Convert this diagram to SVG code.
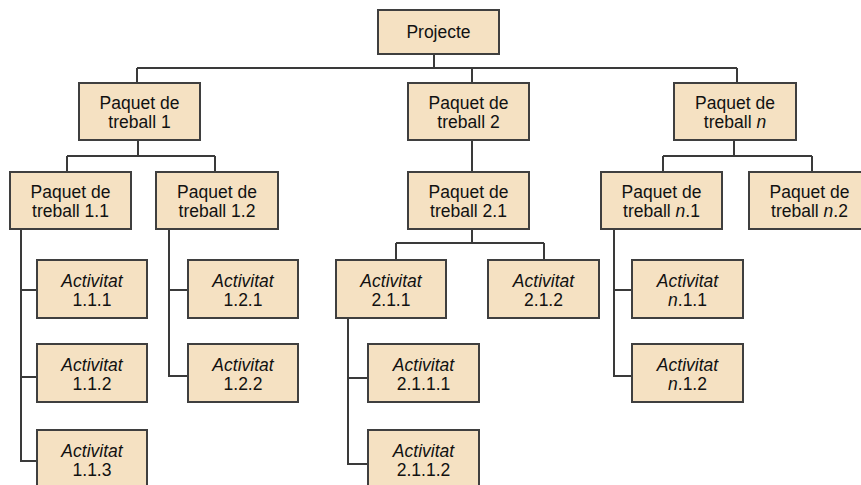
<svg xmlns="http://www.w3.org/2000/svg" width="861" height="485" viewBox="0 0 861 485">
  <style>
    .box { fill: #F5E1C2; stroke: #3f3f3f; stroke-width: 2; }
    .lbl { font-family: "Liberation Sans", Arial, sans-serif; font-size: 17.5px; fill: #111; text-anchor: middle; }
    .it { font-style: italic; }
    .wire { fill: none; stroke: #3a3a3a; stroke-width: 2; }
  </style>
  <rect width="861" height="485" fill="#ffffff"/>

  <!-- tree connectors -->
  <g id="connectors" class="wire">
    <path d="M434 54 V68 M137 68 H737 M137 68 V83 M472 68 V83 M737 68 V83"/>
    <path d="M138 140 V156 M67 156 H215 M67 156 V172 M215 156 V172"/>
    <path d="M472 140 V172"/>
    <path d="M734 140 V156 M663 156 H812 M663 156 V172 M812 156 V172"/>
    <path d="M21 229 V461 H37 M21 290 H37 M21 377 H37"/>
    <path d="M169 229 V376 H188 M169 290 H188"/>
    <path d="M472 229 V243 M396 243 H544 M396 243 V260 M544 243 V260"/>
    <path d="M348 318 V464 H368 M348 378 H368"/>
    <path d="M614 229 V376 H632 M614 290 H632"/>
  </g>

  <!-- root -->
  <g id="projecte">
    <rect class="box" x="378" y="10" width="121" height="44"/>
    <text class="lbl" x="438.5" y="38">Projecte</text>
  </g>

  <!-- work packages, level 1 -->
  <g id="pt1">
    <rect class="box" x="79" y="83" width="121" height="57"/>
    <text class="lbl" x="139.5" y="109">Paquet de</text>
    <text class="lbl" x="139.5" y="128">treball 1</text>
  </g>
  <g id="pt2">
    <rect class="box" x="408" y="83" width="121" height="57"/>
    <text class="lbl" x="468.5" y="109">Paquet de</text>
    <text class="lbl" x="468.5" y="128">treball 2</text>
  </g>
  <g id="ptn">
    <rect class="box" x="674" y="83" width="122" height="57"/>
    <text class="lbl" x="735" y="109">Paquet de</text>
    <text class="lbl" x="735" y="128">treball <tspan class="it">n</tspan></text>
  </g>

  <!-- work packages, level 2 -->
  <g id="pt11">
    <rect class="box" x="10" y="172" width="121" height="57"/>
    <text class="lbl" x="70.5" y="198">Paquet de</text>
    <text class="lbl" x="70.5" y="217">treball 1.1</text>
  </g>
  <g id="pt12">
    <rect class="box" x="156" y="172" width="122" height="57"/>
    <text class="lbl" x="217" y="198">Paquet de</text>
    <text class="lbl" x="217" y="217">treball 1.2</text>
  </g>
  <g id="pt21">
    <rect class="box" x="408" y="172" width="121" height="57"/>
    <text class="lbl" x="468.5" y="198">Paquet de</text>
    <text class="lbl" x="468.5" y="217">treball 2.1</text>
  </g>
  <g id="ptn1">
    <rect class="box" x="601" y="172" width="121" height="57"/>
    <text class="lbl" x="661.5" y="198">Paquet de</text>
    <text class="lbl" x="661.5" y="217">treball <tspan class="it">n</tspan>.1</text>
  </g>
  <g id="ptn2">
    <rect class="box" x="749" y="172" width="121" height="57"/>
    <text class="lbl" x="809.5" y="198">Paquet de</text>
    <text class="lbl" x="809.5" y="217">treball <tspan class="it">n</tspan>.2</text>
  </g>

  <!-- activities -->
  <g id="a111">
    <rect class="box" x="37" y="260" width="110" height="58"/>
    <text class="lbl it" x="92" y="287">Activitat</text>
    <text class="lbl" x="92" y="306">1.1.1</text>
  </g>
  <g id="a112">
    <rect class="box" x="37" y="344" width="110" height="58"/>
    <text class="lbl it" x="92" y="371">Activitat</text>
    <text class="lbl" x="92" y="390">1.1.2</text>
  </g>
  <g id="a113">
    <rect class="box" x="37" y="430" width="110" height="58"/>
    <text class="lbl it" x="92" y="457">Activitat</text>
    <text class="lbl" x="92" y="476">1.1.3</text>
  </g>
  <g id="a121">
    <rect class="box" x="188" y="260" width="110" height="58"/>
    <text class="lbl it" x="243" y="287">Activitat</text>
    <text class="lbl" x="243" y="306">1.2.1</text>
  </g>
  <g id="a122">
    <rect class="box" x="188" y="344" width="110" height="58"/>
    <text class="lbl it" x="243" y="371">Activitat</text>
    <text class="lbl" x="243" y="390">1.2.2</text>
  </g>
  <g id="a211">
    <rect class="box" x="336" y="260" width="110" height="58"/>
    <text class="lbl it" x="391" y="287">Activitat</text>
    <text class="lbl" x="391" y="306">2.1.1</text>
  </g>
  <g id="a212">
    <rect class="box" x="488" y="260" width="111" height="58"/>
    <text class="lbl it" x="543.5" y="287">Activitat</text>
    <text class="lbl" x="543.5" y="306">2.1.2</text>
  </g>
  <g id="a2111">
    <rect class="box" x="368" y="344" width="111" height="58"/>
    <text class="lbl it" x="423.5" y="371">Activitat</text>
    <text class="lbl" x="423.5" y="390">2.1.1.1</text>
  </g>
  <g id="a2112">
    <rect class="box" x="368" y="430" width="111" height="58"/>
    <text class="lbl it" x="423.5" y="457">Activitat</text>
    <text class="lbl" x="423.5" y="476">2.1.1.2</text>
  </g>
  <g id="an11">
    <rect class="box" x="632" y="260" width="111" height="58"/>
    <text class="lbl it" x="687.5" y="287">Activitat</text>
    <text class="lbl" x="687.5" y="306"><tspan class="it">n</tspan>.1.1</text>
  </g>
  <g id="an12">
    <rect class="box" x="632" y="344" width="111" height="58"/>
    <text class="lbl it" x="687.5" y="371">Activitat</text>
    <text class="lbl" x="687.5" y="390"><tspan class="it">n</tspan>.1.2</text>
  </g>
</svg>
